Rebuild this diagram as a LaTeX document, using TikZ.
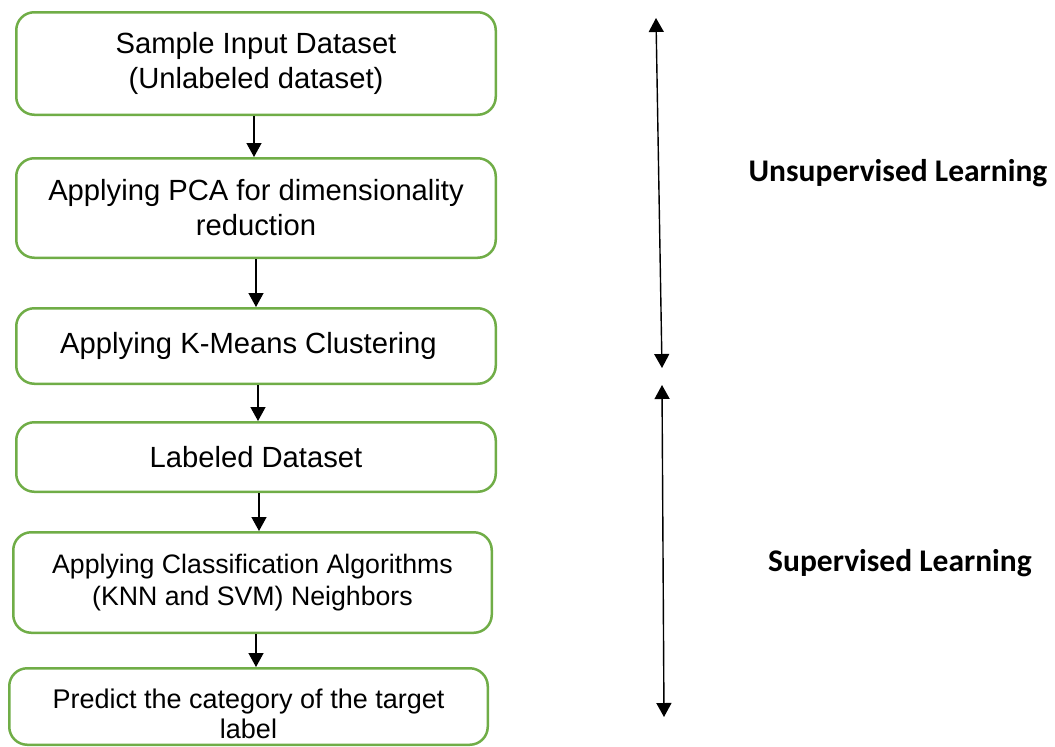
\documentclass[tikz,border=0pt]{standalone}
\usepackage{fontspec}
\setmainfont{Liberation Sans}
\newfontfamily\calibri{Carlito}
\usetikzlibrary{arrows.meta}
\definecolor{boxgreen}{HTML}{70AD47}
\begin{document}
\begin{tikzpicture}[x=1pt,y=-1pt,
  stepbox/.style={draw=boxgreen,line width=2.5pt,rounded corners=18pt,fill=white,align=center,inner sep=0pt,font=\fontsize{29.2}{35}\selectfont},
  flow/.style={line width=1.4pt,-{Triangle[width=15pt,length=14pt]}},
  span/.style={line width=1.4pt,{Triangle[width=15pt,length=14pt]}-{Triangle[width=15pt,length=14pt]}},
  phase/.style={font=\calibri\bfseries\fontsize{31.5}{37}\selectfont}]
\useasboundingbox (0,0) rectangle (1055,747);
\node[stepbox, minimum width=479.5pt, minimum height=102.5pt] (b1) at (256,63.5) {Sample Input Dataset\\(Unlabeled dataset)};
\node[stepbox, minimum width=479.5pt, minimum height=99.5pt] (b2) at (256,208) {Applying PCA for dimensionality\\reduction};
\node[stepbox, minimum width=479.5pt, minimum height=75.5pt] (b3) at (256,346) {Applying K-Means Clustering\hspace*{15pt}};
\node[stepbox, minimum width=479.5pt, minimum height=69.5pt] (b4) at (256,457) {Labeled Dataset};
\node[stepbox, minimum width=478.5pt, minimum height=100.5pt, font=\fontsize{26.7}{32}\selectfont] (b5) at (252.5,582.5) {Applying Classification Algorithms\\(KNN and SVM) Neighbors};
\node[stepbox, minimum width=478.5pt, minimum height=76.5pt, font=\fontsize{27}{30}\selectfont] (b6) at (248.5,706.5) {\raisebox{-10.5pt}[\height][\depth]{\begin{tabular}{@{}c@{}}Predict the category of the target\\label\end{tabular}}};
\draw[flow] ([xshift=-2pt]b1.south) -- ([xshift=-2pt]b1.south |- b2.north);
\draw[flow] (b2.south) -- (b2.south |- b3.north);
\draw[flow] ([xshift=2pt]b3.south) -- ([xshift=2pt]b3.south |- b4.north);
\draw[flow] ([xshift=3pt]b4.south) -- ([xshift=3pt]b4.south |- b5.north);
\draw[flow] ([xshift=3.5pt]b5.south) -- ([xshift=3.5pt]b5.south |- b6.north);
\node[phase] (unsup) at (898,173) {Unsupervised Learning};
\node[phase] (sup) at (900,563) {Supervised Learning};
\coordinate (u1) at (656,18);
\coordinate (u2) at (662,368);
\coordinate (s1) at (662,385);
\coordinate (s2) at (664,717);
\draw[span] (u1) -- (u2);
\draw[span] (s1) -- (s2);
\end{tikzpicture}
\end{document}
